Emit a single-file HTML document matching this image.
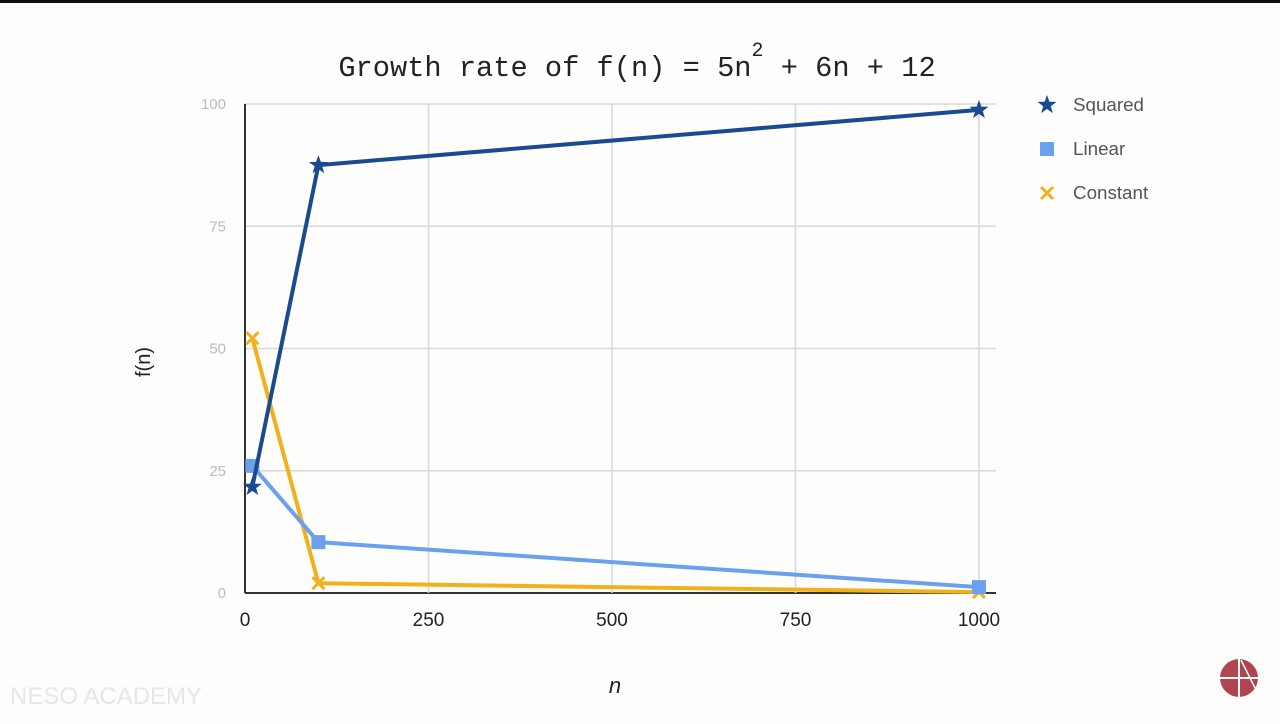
<!DOCTYPE html>
<html><head><meta charset="utf-8"><style>
body{margin:0;background:#fdfdfc;width:1280px;height:719px;overflow:hidden;font-family:"Liberation Sans",sans-serif}
</style></head><body>
<svg id="chart" width="1280" height="719" xmlns="http://www.w3.org/2000/svg">
<rect x="0" y="0" width="1280" height="3" fill="#111"/>
<text x="637" y="76" text-anchor="middle" font-family="Liberation Mono, monospace" font-size="28.7" fill="#222">Growth rate of f(n) = 5n<tspan dy="-20" font-size="20">2</tspan><tspan dy="20"> + 6n + 12</tspan></text>
<text x="150" y="362" transform="rotate(-90 150 362)" text-anchor="middle" font-size="20" fill="#222">f(n)</text>
<text x="615" y="693" text-anchor="middle" font-size="22" font-style="italic" fill="#222">n</text>
<text x="10" y="704" font-size="24" fill="#e6e6e6">NESO ACADEMY</text>
<g><circle cx="1239" cy="678" r="19" fill="#b0444f"/><line x1="1220" y1="678" x2="1258" y2="678" stroke="#fff" stroke-width="2"/><line x1="1239" y1="659" x2="1239" y2="697" stroke="#fff" stroke-width="2"/><line x1="1241" y1="660" x2="1256" y2="690" stroke="#fff" stroke-width="1.5"/></g>
<g id="grid"></g><g id="series"></g><g id="legend"></g>
</svg>
<script>
const xValues=[10,100,1000];
const squared=[21.7,87.5,98.8];
const linear=[26,10.4,1.2];
const constant=[52.1,2,0.2];
const xTicks=[0,250,500,750,1000];
const yTicks=[0,25,50,75,100];
const seriesNames=["Squared","Linear","Constant"];
const NS="http://www.w3.org/2000/svg";
const X=v=>245+v*0.734, Y=v=>593-v*4.89;
function mk(t,a,p){const e=document.createElementNS(NS,t);for(const k in a)e.setAttribute(k,a[k]);p.appendChild(e);return e;}
const g=document.getElementById('grid');
yTicks.forEach(t=>{
 const l=mk('line',{x1:245,x2:996,y1:Y(t),y2:Y(t),stroke:t==0?'#333':'#d8d8d8','stroke-width':t==0?2:1.5},g);
 
 
 const tx=mk('text',{x:226,y:Y(t)+5,'text-anchor':'end','font-size':15,fill:'#bbb'},g);tx.textContent=t;
 
 
});
xTicks.forEach(t=>{
 if(t>0){const l=mk('line',{x1:X(t),x2:X(t),y1:104,y2:593,stroke:'#d8d8d8','stroke-width':1.5},g);
 
 }
 const tx=mk('text',{x:X(t),y:626,'text-anchor':'middle','font-size':19,fill:'#222'},g);tx.textContent=t;
 
 
});
const ax=mk('line',{x1:245,x2:245,y1:104,y2:593,stroke:'#333','stroke-width':2},g);


const s=document.getElementById('series');
const colors=['#1a4a8f','#6aa0ee','#f2b01c'];
const data=[squared,linear,constant];
function marker(i,cx,cy,p){
 let e;
 if(i==0){const pts=[];for(let k=0;k<10;k++){const r=k%2?4:10,a=-Math.PI/2+k*Math.PI/5;pts.push((cx+r*Math.cos(a)).toFixed(1)+','+(cy+r*Math.sin(a)).toFixed(1));}
  e=mk('polygon',{points:pts.join(' '),fill:colors[0]},p);}
 else if(i==1) e=mk('rect',{x:cx-7,y:cy-7,width:14,height:14,fill:colors[1]},p);
 else e=mk('path',{d:`M${cx-6} ${cy-6}L${cx+6} ${cy+6}M${cx+6} ${cy-6}L${cx-6} ${cy+6}`,stroke:colors[2],'stroke-width':3},p);
 return e;
}
[2,1,0].forEach(i=>{
 const pl=mk('polyline',{points:xValues.map((x,j)=>X(x)+','+Y(data[i][j])).join(' '),fill:'none',stroke:colors[i],'stroke-width':4,'stroke-linejoin':'round'},s);
 
 
 xValues.forEach((x,j)=>{const m=marker(i,X(x),Y(data[i][j]),s);
  
  });
});
const lg=document.getElementById('legend');
seriesNames.forEach((n,i)=>{
 const gg=mk('g',{},lg);
 
 
 marker(i,1047,105+i*44,gg);
 const t=mk('text',{x:1073,y:111+i*44,'font-size':18.8,fill:'#555'},gg);t.textContent=n;
});
</script>
</body></html>
